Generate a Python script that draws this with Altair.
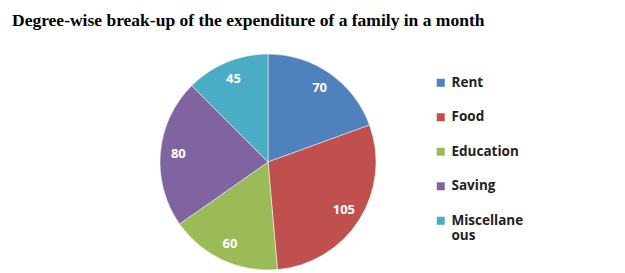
import altair as alt
import pandas as pd

categories = ["Rent", "Food", "Education", "Saving", "Miscellaneous"]
degrees = [70, 105, 60, 80, 45]
colors = ["#4F81BD", "#C0504D", "#9BBB59", "#8064A2", "#4BACC6"]

df = pd.DataFrame({
    "category": categories,
    "value": degrees,
    "order": list(range(len(categories))),
})

TOP = 35
cx, cy = 268, 162 - TOP

base = alt.Chart(df).encode(
    theta=alt.Theta("value:Q", stack=True),
    order=alt.Order("order:Q", sort="ascending"),
    x=alt.value(cx),
    y=alt.value(cy),
)

color = alt.Color(
    "category:N",
    scale=alt.Scale(domain=categories, range=colors),
    legend=alt.Legend(
        title=None,
        orient="none",
        legendX=434,
        legendY=83 - TOP - 7,
        symbolType="square",
        symbolSize=64,
        symbolStrokeWidth=0,
        labelFont="Open Sans",
        labelFontWeight="bold",
        labelFontSize=13.5,
        labelColor="#222222",
        labelOffset=4,
        rowPadding=19.5,
        labelLimit=200,
        labelExpr="datum.label == 'Miscellaneous' ? ['Miscellane', 'ous'] : datum.label",
    ),
)

arcs = base.mark_arc(outerRadius=108, stroke="white", strokeWidth=0.5).encode(color=color)

labels = base.mark_text(
    radius=90,
    font="Open Sans",
    fontWeight="bold",
    fontSize=13,
    color="white",
).encode(text="value:Q")

chart = (
    alt.layer(arcs, labels)
    .properties(
        width=625,
        height=273 - TOP,
        autosize="none",
        padding={"top": TOP, "left": 0, "right": 0, "bottom": 0},
        title=alt.TitleParams(
            "Degree-wise break-up of the expenditure of a family in a month",
            anchor="start",
            font="Liberation Serif",
            fontSize=17.5,
            fontWeight="bold",
            color="black",
            baseline="alphabetic",
            offset=-8,
            dx=12,
        ),
    )
    .configure_view(stroke=None)
)

chart.save("out.html", embed_options={"renderer": "svg", "actions": False})
